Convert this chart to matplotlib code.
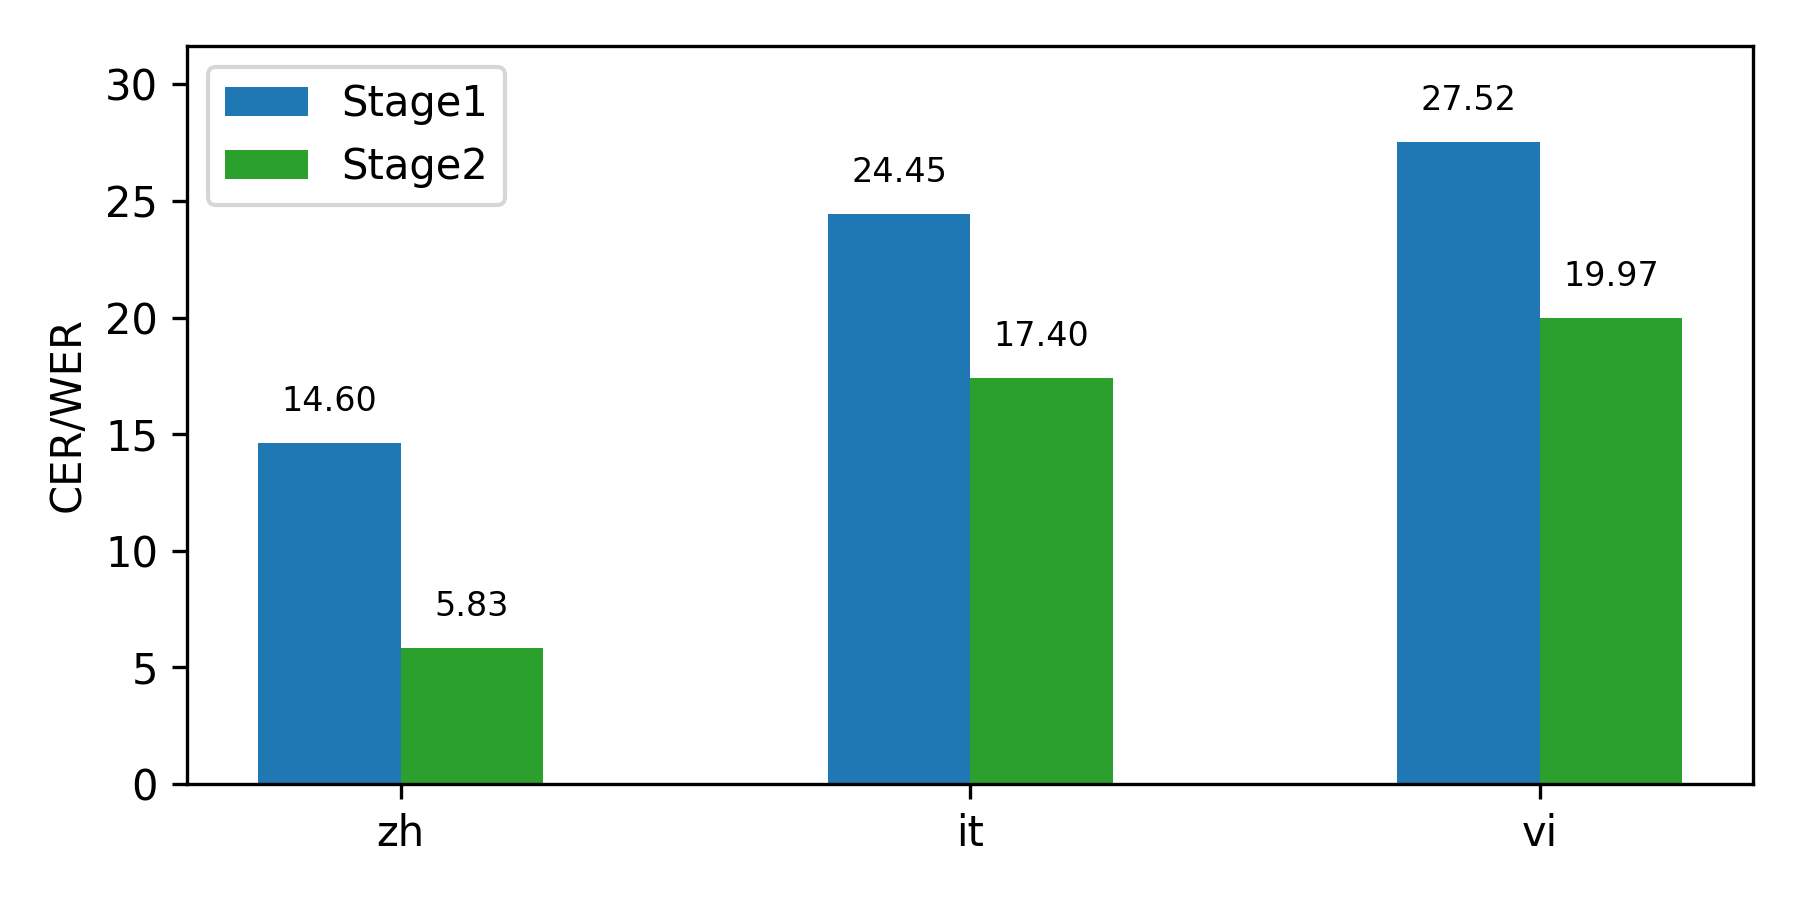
import numpy as np
import matplotlib.pyplot as plt

# dane
languages = ["zh", "it", "vi"]
stage1 = [14.60, 24.45, 27.52]
stage2 = [5.83, 17.40, 19.97]

fig, ax = plt.subplots(figsize=(6, 3), dpi=300)
fig.subplots_adjust(left=0.104, right=0.974, top=0.949, bottom=0.129)

x = np.arange(len(languages))
w = 0.25

b1 = ax.bar(x - w / 2, stage1, w, color="#1f77b4", label="Stage1")
b2 = ax.bar(x + w / 2, stage2, w, color="#2ca02c", label="Stage2")

# brojevi iznad stupaca
for bars in (b1, b2):
    for b in bars:
        h = b.get_height()
        ax.annotate(f"{h:.2f}", (b.get_x() + b.get_width() / 2, h),
                    xytext=(0, 6), textcoords="offset points",
                    ha="center", va="bottom", fontsize=8)

ax.set_xticks(x)
ax.set_xticklabels(languages)
ax.set_ylabel("CER/WER")
ax.set_ylim(0, max(stage1) * 1.15)
ax.legend(loc="upper left")

plt.savefig("out.png")
